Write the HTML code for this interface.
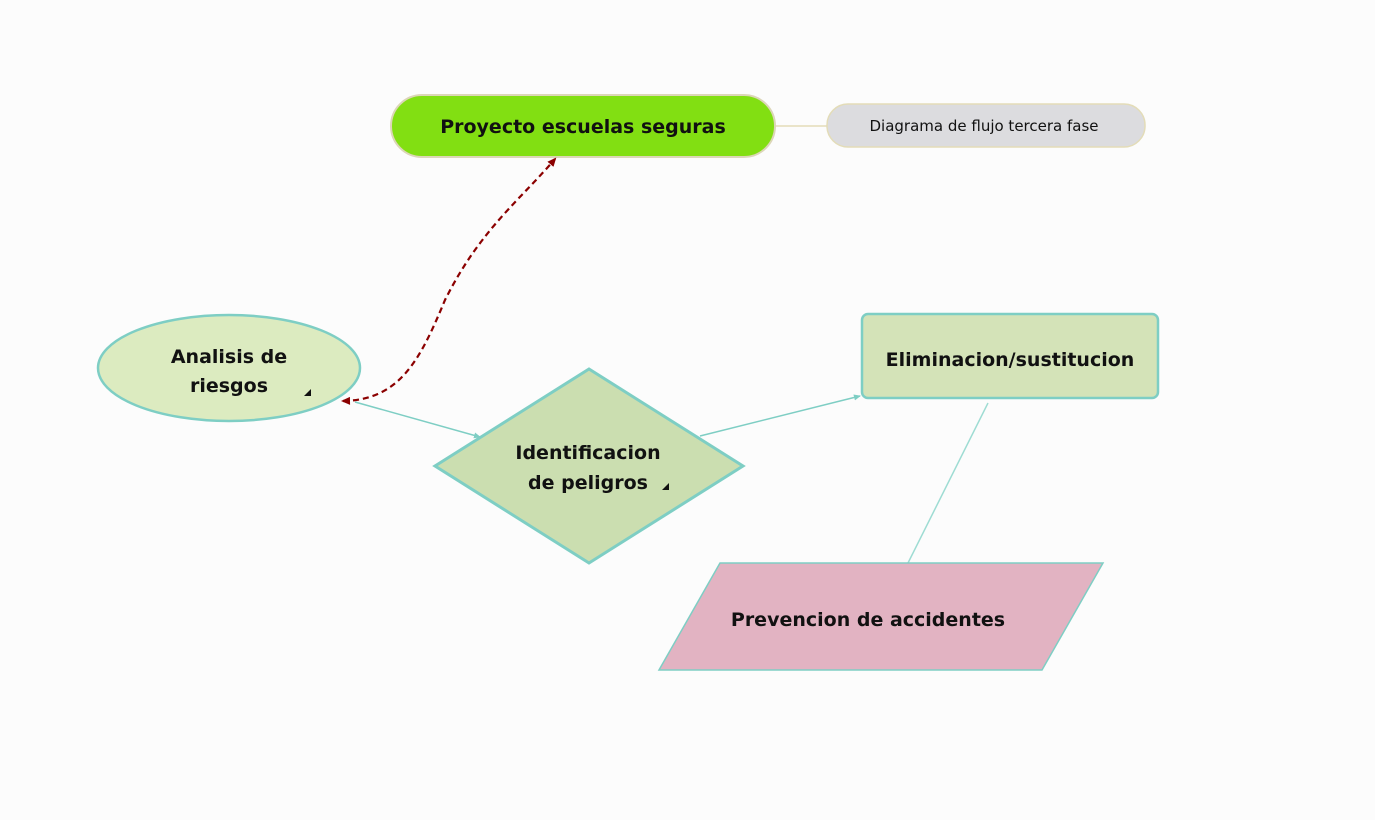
<!DOCTYPE html>
<html><head><meta charset="utf-8"><style>
html,body{margin:0;padding:0;background:#fcfcfc;width:1375px;height:820px;overflow:hidden}
text{font-family:"DejaVu Sans","Liberation Sans",sans-serif;font-weight:bold;fill:#111}
</style></head><body>
<svg width="1375" height="820" viewBox="0 0 1375 820" xmlns="http://www.w3.org/2000/svg">
<defs>
<marker id="ar" markerWidth="8" markerHeight="8" refX="6" refY="4" orient="auto" markerUnits="userSpaceOnUse"><path d="M0,1 L7,4 L0,7 Z" fill="#7ecec4"/></marker>
<marker id="rd" markerWidth="10" markerHeight="10" refX="7" refY="5" orient="auto" markerUnits="userSpaceOnUse"><path d="M0,1 L9,5 L0,9 Z" fill="#8b0000"/></marker>
<marker id="rs" markerWidth="10" markerHeight="10" refX="2" refY="5" orient="auto" markerUnits="userSpaceOnUse"><path d="M9,1 L0,5 L9,9 Z" fill="#8b0000"/></marker>
</defs>
<line x1="775" y1="126" x2="828" y2="126" stroke="#e3dcb8" stroke-width="1.5"/>
<rect x="391" y="95" width="384" height="62" rx="31" fill="#82df12" stroke="#dcd6b8" stroke-width="2"/>
<text x="583" y="133" text-anchor="middle" font-size="19">Proyecto escuelas seguras</text>
<rect x="827" y="104" width="318" height="43" rx="21" fill="#dcdcdf" stroke="#e3dcb8" stroke-width="1.5"/>
<text x="984" y="131" text-anchor="middle" font-size="15" style="font-weight:normal" fill="#333">Diagrama de flujo tercera fase</text>
<path d="M343,401 C400,400 420,360 445,300 C480,230 520,200 555,159" fill="none" stroke="#8b0000" stroke-width="2.2" stroke-dasharray="6,4" marker-end="url(#rd)" marker-start="url(#rs)"/>
<ellipse cx="229" cy="368" rx="131" ry="53" fill="#dcebc0" stroke="#7ecec4" stroke-width="2.5"/>
<text x="229" y="363" text-anchor="middle" font-size="19">Analisis de</text>
<text x="229" y="392" text-anchor="middle" font-size="19">riesgos</text>
<path d="M304,396 L311,389 L311,396 Z" fill="#111"/>
<line x1="355" y1="402" x2="480" y2="437" stroke="#7ecec4" stroke-width="1.5" marker-end="url(#ar)"/>
<line x1="700" y1="436" x2="860" y2="396" stroke="#7ecec4" stroke-width="1.5" marker-end="url(#ar)"/>
<line x1="988" y1="403" x2="908" y2="563" stroke="#9fdcd3" stroke-width="1.5"/>
<polygon points="589,369 743,466 589,563 435,466" fill="#cbdeb0" stroke="#7ecec4" stroke-width="3"/>
<text x="588" y="459" text-anchor="middle" font-size="19">Identificacion</text>
<text x="588" y="489" text-anchor="middle" font-size="19">de peligros</text>
<path d="M662,490 L669,483 L669,490 Z" fill="#111"/>
<rect x="862" y="314" width="296" height="84" rx="6" fill="#d4e3b8" stroke="#7ecec4" stroke-width="2.5"/>
<text x="1010" y="366" text-anchor="middle" font-size="19">Eliminacion/sustitucion</text>
<polygon points="720,563 1103,563 1042,670 659,670" fill="#e2b3c2" stroke="#7ecec4" stroke-width="1.5"/>
<text x="868" y="626" text-anchor="middle" font-size="19">Prevencion de accidentes</text>
</svg>
</body></html>
